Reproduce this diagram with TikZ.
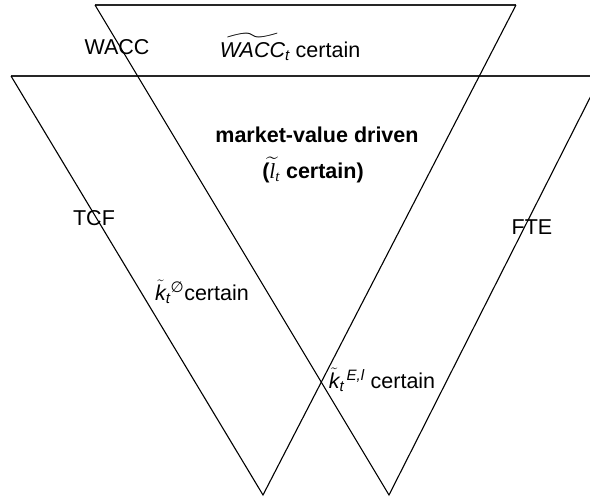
\documentclass[tikz,border=0pt]{standalone}
\usepackage{amsmath,amssymb}
\usepackage{fontspec}
\setmainfont{Liberation Sans}
\newfontfamily\serifit{Liberation Serif}
\newfontfamily\dv{DejaVu Sans}
\newcommand\serl[1]{\text{\serifit\mdseries\itshape #1}}
\newcommand\sit[1]{\text{\mdseries\itshape #1}}
\begin{document}
\begin{tikzpicture}[x=1pt,y=-1pt,
  lbl/.style={font=\fontsize{21.5}{26}\selectfont, inner sep=0pt},
  blbl/.style={font=\fontsize{21.5}{26}\selectfont\bfseries, inner sep=0pt},
  edge/.style={line width=1.1pt, black},
  hedge/.style={line width=1.3pt, black!85}]
\useasboundingbox (0,0) rectangle (590,497);
\begin{scope}
\clip (0,0) rectangle (590,497);
\coordinate (w1) at (95,5);
\coordinate (w2) at (516,5);
\coordinate (h1) at (11,76);
\coordinate (h2) at (600,76);
\coordinate (apL) at (263,495);
\coordinate (apR) at (389,495);
\coordinate (fr) at (601,76);
\draw[hedge] (w1) -- (w2);
\draw[hedge] (h1) -- (h2);
\draw[edge] (h1) -- (apL) -- (w2);
\draw[edge] (w1) -- (apR) -- (fr);
\end{scope}
\node[lbl] (wacc) at (117,47) {WACC};
\node[lbl] (waccc) at (290,47) {$\widetilde{\sit{WACC}}_{\sit{t}}$ certain};
\node[blbl] (mvd) at (317,135) {market-value driven};
\node[blbl] (lcert) at (313,170) {($\widetilde{\serl{l}}_{\serl{t}}$ certain)};
\node[lbl] (tcf) at (94,218) {TCF};
\node[lbl] (fte) at (532,227) {FTE};
\node[lbl] (kzero) at (202,292) {$\tilde{\sit{k}}_{\sit{t}}{}^{\text{\dv\mdseries ∅}}$certain};
\node[lbl] (kel) at (382,380) {$\tilde{\sit{k}}_{\sit{t}}{}^{\,\sit{E,l}}$ certain};
\end{tikzpicture}
\end{document}
